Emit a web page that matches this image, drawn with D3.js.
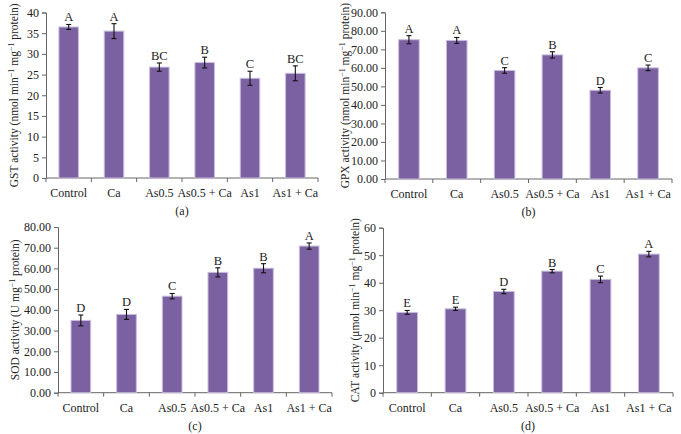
<!DOCTYPE html>
<html>
<head>
<meta charset="utf-8">
<script src="https://cdn.jsdelivr.net/npm/d3@7"></script>
<style>
  html, body { margin: 0; padding: 0; background: #fff; }
  svg { display: block; }
  text { font-family: "Liberation Serif", "DejaVu Serif", serif; fill: #222; }
</style>
</head>
<body>
<svg id="chart" width="681" height="434"></svg>
<script>
const categories = ["Control", "Ca", "As0.5", "As0.5 + Ca", "As1", "As1 + Ca"];

const gstValues = [36.5, 35.5, 26.8, 27.9, 24.1, 25.3];
const gstErrors = [0.6, 1.8, 1.0, 1.3, 1.7, 1.8];
const gstLetters = ["A", "A", "BC", "B", "C", "BC"];

const gpxValues = [75.2, 74.8, 58.6, 67.0, 47.9, 60.0];
const gpxErrors = [2.2, 1.6, 1.5, 1.7, 1.5, 1.5];
const gpxLetters = ["A", "A", "C", "B", "D", "C"];

const sodValues = [34.9, 37.8, 46.6, 58.1, 60.1, 70.8];
const sodErrors = [2.6, 2.4, 1.3, 2.2, 2.2, 1.5];
const sodLetters = ["D", "D", "C", "B", "B", "A"];

const catValues = [29.2, 30.5, 36.8, 44.2, 41.2, 50.4];
const catErrors = [0.7, 0.6, 0.8, 0.6, 1.2, 1.0];
const catLetters = ["E", "E", "D", "B", "C", "A"];

const gstTicks = [0, 5, 10, 15, 20, 25, 30, 35, 40];
const gpxTicks = [0, 10, 20, 30, 40, 50, 60, 70, 80, 90];
const sodTicks = [0, 10, 20, 30, 40, 50, 60, 70, 80];
const catTicks = [0, 10, 20, 30, 40, 50, 60];

const panelTags = ["(a)", "(b)", "(c)", "(d)"];

const svg = d3.select("#chart");
const barFill = "#7b61a1";
const barEdge = "#c9bddc";
const axisColor = "#666";

const panels = [
  { values: gstValues, errors: gstErrors, letters: gstLetters, ticks: gstTicks, fmt: d3.format("d"),
    xr: [46, 318], yr: [178, 12.5], tag: panelTags[0], labelX: 14,
    label: [["GST activity (nmol min", 0], ["−1", 1], [" mg", 0], ["−1", 1], [" protein)", 0]] },
  { values: gpxValues, errors: gpxErrors, letters: gpxLetters, ticks: gpxTicks, fmt: d3.format(".2f"),
    xr: [385, 672], yr: [179, 12.3], tag: panelTags[1], labelX: 345,
    label: [["GPX activity (nmol min", 0], ["−1", 1], [" mg", 0], ["−1", 1], [" protein)", 0]] },
  { values: sodValues, errors: sodErrors, letters: sodLetters, ticks: sodTicks, fmt: d3.format(".2f"),
    xr: [58, 332], yr: [392.7, 227], tag: panelTags[2], labelX: 15,
    label: [["SOD activity (U mg", 0], ["−1", 1], [" protein)", 0]] },
  { values: catValues, errors: catErrors, letters: catLetters, ticks: catTicks, fmt: d3.format("d"),
    xr: [383, 673], yr: [392.7, 227.7], tag: panelTags[3], labelX: 355,
    label: [["CAT activity (μmol min", 0], ["−1", 1], [" mg", 0], ["−1", 1], [" protein)", 0]] }
];

panels.forEach(p => {
  const g = svg.append("g");
  const maxV = p.ticks[p.ticks.length - 1];
  const x = d3.scaleBand().domain(categories).range(p.xr).paddingInner(0.57).paddingOuter(0.285);
  const y = d3.scaleLinear().domain([0, maxV]).range(p.yr);
  const step = x.step();
  const x0 = p.xr[0];

  // y axis
  const yAxis = d3.axisLeft(y).tickValues(p.ticks).tickFormat(p.fmt).tickSize(4).tickPadding(3);
  const ya = g.append("g").attr("transform", `translate(${x0},0)`).call(yAxis);
  ya.select(".domain").attr("stroke", axisColor);
  ya.selectAll(".tick line").attr("stroke", axisColor);
  ya.selectAll(".tick text").attr("font-size", 12).attr("font-family", "Liberation Serif").attr("fill", "#222");

  // x axis baseline
  g.append("line").attr("x1", p.xr[0]).attr("x2", p.xr[1])
    .attr("y1", y(0)).attr("y2", y(0)).attr("stroke", axisColor);
  // boundary ticks
  d3.range(0, categories.length + 1).forEach(i => {
    g.append("line").attr("x1", x0 + i * step).attr("x2", x0 + i * step)
      .attr("y1", y(0)).attr("y2", y(0) + 4).attr("stroke", axisColor);
  });
  // category labels
  g.selectAll(".cat").data(categories).enter().append("text")
    .attr("x", d => x(d) + x.bandwidth() / 2)
    .attr("y", y(0) + 19)
    .attr("text-anchor", "middle").attr("font-size", 12)
    .text(d => d);

  // bars
  g.selectAll(".bar").data(p.values).enter().append("rect")
    .attr("x", (d, i) => x(categories[i]))
    .attr("y", d => y(d))
    .attr("width", x.bandwidth())
    .attr("height", d => y(0) - y(d))
    .attr("fill", barFill)
    .attr("stroke", barEdge).attr("stroke-width", 1);

  // error bars
  const eg = g.append("g").attr("stroke", "#111").attr("stroke-width", 1.1);
  p.values.forEach((v, i) => {
    const cx = x(categories[i]) + x.bandwidth() / 2;
    const e = p.errors[i];
    eg.append("line").attr("x1", cx).attr("x2", cx).attr("y1", y(v + e)).attr("y2", y(v - e));
    eg.append("line").attr("x1", cx - 2.5).attr("x2", cx + 2.5).attr("y1", y(v + e)).attr("y2", y(v + e));
    eg.append("line").attr("x1", cx - 2.5).attr("x2", cx + 2.5).attr("y1", y(v - e)).attr("y2", y(v - e));
  });

  // letters
  g.selectAll(".letter").data(p.letters).enter().append("text")
    .attr("x", (d, i) => x(categories[i]) + x.bandwidth() / 2)
    .attr("y", (d, i) => y(p.values[i] + p.errors[i]) - 3)
    .attr("text-anchor", "middle").attr("font-size", 12.5)
    .text(d => d);

  // panel tag
  g.append("text").attr("x", (p.xr[0] + p.xr[1]) / 2).attr("y", y(0) + 37)
    .attr("text-anchor", "middle").attr("font-size", 12).text(p.tag);

  // y label
  const cy = (p.yr[0] + p.yr[1]) / 2;
  const lt = g.append("text")
    .attr("transform", `translate(${p.labelX},${cy}) rotate(-90)`)
    .attr("text-anchor", "middle").attr("font-size", 11.5)
    .attr("dy", "0.35em");
  let raised = false;
  p.label.forEach(([s, sup]) => {
    const ts = lt.append("tspan").text(s);
    if (sup && !raised) { ts.attr("dy", -4).attr("font-size", 8); raised = true; }
    else if (!sup && raised) { ts.attr("dy", 4); raised = false; }
  });
});
</script>
</body>
</html>
